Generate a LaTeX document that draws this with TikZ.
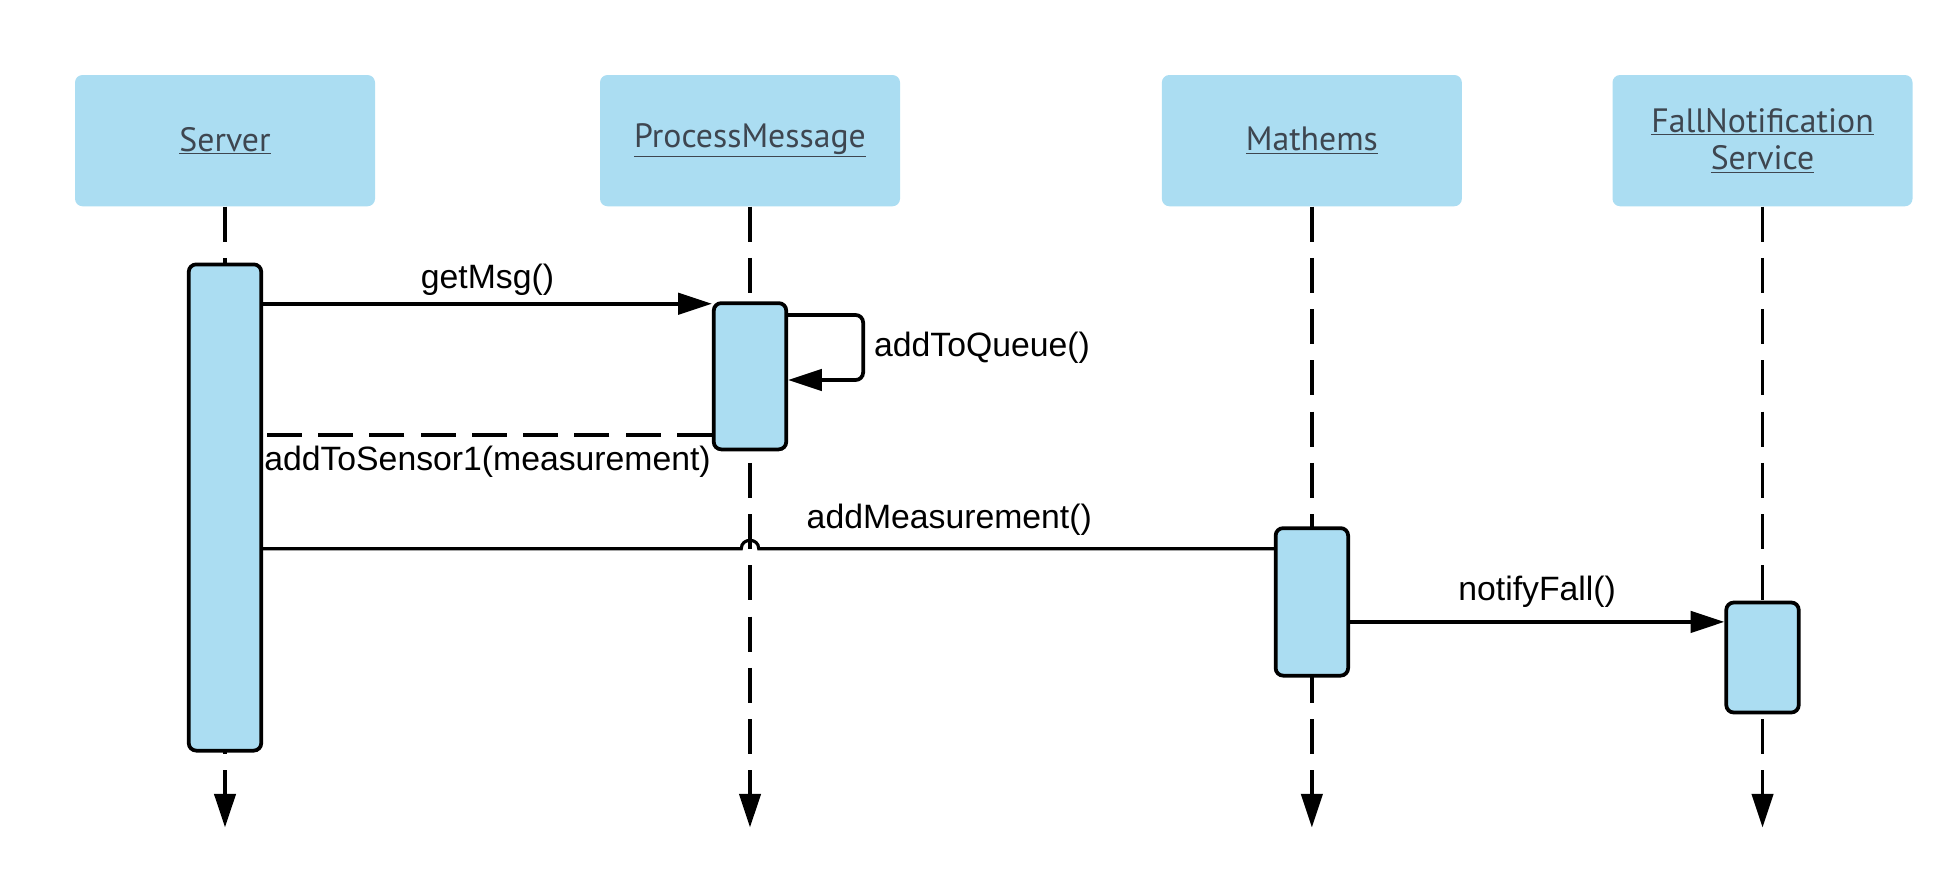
\documentclass[tikz,border=0pt]{standalone}
\usepackage{fontspec}
\setmainfont{Liberation Sans}
\newfontfamily\headfont{PT Sans}
\usetikzlibrary{arrows.meta}
\definecolor{boxblue}{RGB}{171,221,242}
\definecolor{headgray}{RGB}{62,70,80}
\tikzset{
  head/.style={fill=boxblue, rounded corners=6pt, minimum width=240pt, minimum height=105pt,
    text=headgray, font=\headfont\fontsize{27}{31}\selectfont, align=center, inner sep=0pt},
  act/.style={draw, line width=3pt, fill=boxblue, rounded corners=6pt, minimum width=58pt, inner sep=0pt},
  life/.style={line width=3pt, dash pattern=on 28pt off 13pt, -{Triangle[length=27pt,width=17pt]}},
  msg/.style={line width=3pt, -{Triangle[length=27pt,width=17pt]}},
  lbl/.style={font=\fontsize{27}{30}\selectfont}
}
\newcommand{\uline}[1]{\underline{#1}}
\begin{document}
\begin{tikzpicture}[x=1pt,y=-1pt]
  \useasboundingbox (0,0) rectangle (1560,715.2);
  % headers
  \node[head] (srv) at (180,112.5) {\uline{Server}};
  \node[head] (pm) at (600,112.5) {\uline{ProcessMessage}};
  \node[head] (mth) at (1049.5,112.5) {\uline{Mathems}};
  \node[head] (fns) at (1410,112.5) {\uline{FallNotification}\\[-1pt]\uline{Service}};
  % lifelines
  \coordinate (srvend) at (180,662);
  \coordinate (pmend) at (600,662);
  \coordinate (mthend) at (1049.5,662);
  \coordinate (fnsend) at (1410,662);
  \draw[life] (srv.south) -- (srvend);
  \draw[life] (pm.south) -- (pmend);
  \draw[life] (mth.south) -- (mthend);
  \draw[life] (fns.south) -- (fnsend);
  % activations
  \node[act, minimum height=389pt] (sact) at (180,406) {};
  \node[act, minimum height=117pt] (pact) at (600,301) {};
  \node[act, minimum height=118pt] (mact) at (1049.5,481.5) {};
  \node[act, minimum height=88pt] (fact) at (1410,526) {};
  % messages
  \coordinate (g1) at ([yshift=-2pt]pact.north west);
  \draw[msg] (sact.east |- g1) -- node[lbl, above=2pt] {getMsg()} (g1);
  \coordinate (q1) at ([yshift=-11pt]pact.north east);
  \coordinate (q2) at ([yshift=-63pt]pact.north east);
  \draw[msg, rounded corners=6pt] (q1) -- ++(60,0) |- node[lbl, right=4pt, pos=.25] {addToQueue()} (q2);
  \coordinate (r1) at ([yshift=13pt]pact.south west);
  \draw[line width=3pt, dash pattern=on 28pt off 13pt] (r1) -- node[lbl, below=4pt] {addToSensor1(measurement)} (sact.east |- r1);
  \coordinate (m1) at ([yshift=-18pt]mact.north west);
  \draw[line width=2.5pt] (sact.east |- m1) -- ([xshift=-7pt]pact.center |- m1)
    .. controls +(0,-9) and +(0,-9) .. ([xshift=7pt]pact.center |- m1)
    -- node[lbl, above=6pt, pos=.37] {addMeasurement()} (m1);
  \coordinate (n1) at ([yshift=-17pt]fact.north west);
  \draw[msg] (mact.east |- n1) -- node[lbl, above=7pt] {notifyFall()} (n1);
\end{tikzpicture}
\end{document}
